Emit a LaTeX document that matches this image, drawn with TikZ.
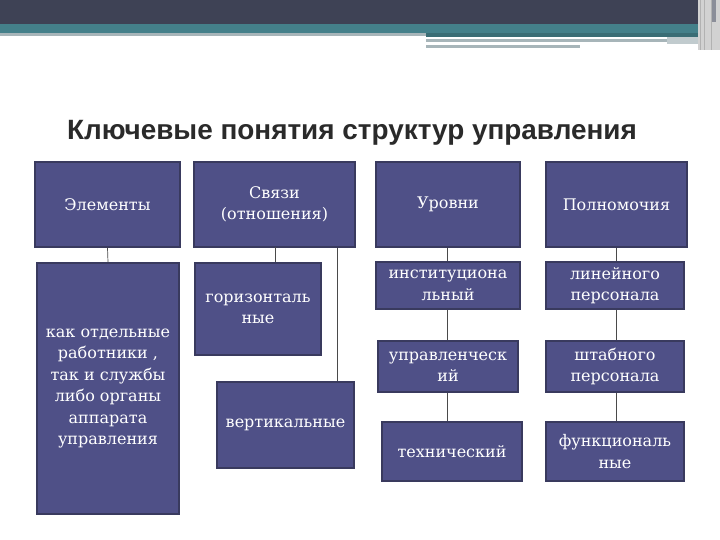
\documentclass[tikz,border=0pt]{standalone}
\usepackage{fontspec}
\setmainfont{DejaVu Serif}
\newfontfamily\titlefont{Liberation Sans}
\definecolor{barDark}{HTML}{3E4255}
\definecolor{barTeal}{HTML}{44808A}
\definecolor{barGrey}{HTML}{A7B5B9}
\definecolor{boxFill}{HTML}{4F5087}
\definecolor{boxLine}{HTML}{393A5E}
\definecolor{linkCol}{HTML}{4A4A4A}
\definecolor{titleCol}{HTML}{2A2A2A}
\tikzset{
  box/.style={draw=boxLine, line width=1.2pt, fill=boxFill, text=white,
    font=\fontsize{16}{21.5}\selectfont, align=center, inner sep=0pt, anchor=center},
  link/.style={draw=linkCol, line width=0.7pt}
}
\newcommand{\mkbox}[6]{% name, x1, y1, x2, y2, text
  \node[box, minimum width={(#4-#2)*1pt}, minimum height={(#5-#3)*1pt}]
    (#1) at ({(#2+#4)/2}, {(#3+#5)/2}) {#6};}
\begin{document}
\begin{tikzpicture}[x=1pt, y=-1pt]
\useasboundingbox (0,0) rectangle (720,540);
\fill[white] (0,0) rectangle (720,540);
% top decoration
\fill[barDark] (0,0) rectangle (720,24);
\fill[barTeal] (0,24) rectangle (720,33);
\fill[barGrey] (0,33) rectangle (426,36);
\fill[barTeal!85!black] (426,33) rectangle (700,37);
\fill[white] (426,37) rectangle (667,39);
\fill[barGrey] (426,39) rectangle (667,42);
\fill[barGrey] (426,45) rectangle (580,48);
\fill[barGrey!70!white] (667,37) rectangle (700,44);
\fill[gray!35] (698,0) rectangle (720,50);
\draw[gray!60, line width=0.6pt] (700,0) -- (700,50) (704,0) -- (704,50) (711,0) -- (711,50);
\fill[barDark!60!white] (712,0) rectangle (716,22);
% title
\node[font=\titlefont\bfseries\fontsize{27.9}{32}\selectfont, text=titleCol, anchor=center]
  (title) at (352,133) {Ключевые понятия структур управления};
% top row
\mkbox{elem}{35}{162}{180}{247}{Элементы}
\mkbox{svyaz}{194}{162}{355}{247}{Связи\\(отношения)}
\mkbox{urov}{376}{162}{520}{247}{Уровни}
\mkbox{poln}{546}{162}{687}{247}{Полномочия}
% children
\mkbox{elemc}{37}{263}{179}{514}{как отдельные\\работники ,\\так и службы\\либо органы\\аппарата\\управления}
\mkbox{gor}{195}{263}{321}{355}{горизонталь\\ные}
\mkbox{vert}{217}{382}{354}{468}{вертикальные}
\mkbox{inst}{376}{262}{520}{309}{институциона\\льный}
\mkbox{upr}{378}{341}{518}{392}{управленческ\\ий}
\mkbox{tech}{382}{422}{522}{481}{технический}
\mkbox{lin}{546}{262}{684}{309}{линейного\\персонала}
\mkbox{shtab}{546}{341}{684}{392}{штабного\\персонала}
\mkbox{func}{546}{422}{684}{481}{функциональ\\ные}
% connectors
\draw[link] (elem.south) -- (elemc.north);
\draw[link] (275,247) -- (gor.north -| 275,0);
\draw[link] (svyaz.south -| 337,0) -- (vert.north -| 337,0);
\draw[link] (urov.south -| 447,0) -- (inst.north -| 447,0);
\draw[link] (inst.south -| 447,0) -- (upr.north -| 447,0);
\draw[link] (upr.south -| 447,0) -- (tech.north -| 447,0);
\draw[link] (poln.south -| 616,0) -- (lin.north -| 616,0);
\draw[link] (lin.south -| 616,0) -- (shtab.north -| 616,0);
\draw[link] (shtab.south -| 616,0) -- (func.north -| 616,0);
\end{tikzpicture}
\end{document}
